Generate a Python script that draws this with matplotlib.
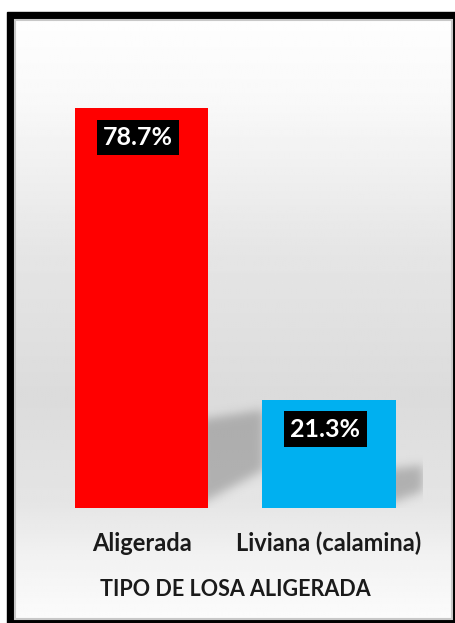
import numpy as np
import matplotlib
matplotlib.use("Agg")
from matplotlib import pyplot as plt
from matplotlib.patches import Rectangle
from matplotlib.path import Path

categories = ["Aligerada", "Liviana (calamina)"]
values = [78.7, 21.3]
labels = ["78.7%", "21.3%"]
colors = ["#ff0000", "#00b0f0"]
xlabel = "TIPO DE LOSA ALIGERADA"

W, H = 455, 623
fig = plt.figure(figsize=(W / 100, H / 100), dpi=100)

# background: frame + vertical gradient
bg = fig.add_axes([0, 0, 1, 1])
bg.set_xlim(0, W)
bg.set_ylim(H, 0)
bg.axis("off")
bg.add_patch(Rectangle((7, 12), W - 7, H - 12, color="black", zorder=0))
stops_y = [20, 100, 250, 400, 505, 560, 619]
stops_v = [0.995, 0.975, 0.90, 0.86, 0.90, 0.95, 0.985]
yy = np.linspace(20, 619, 300)
grad = np.interp(yy, stops_y, stops_v)
img = np.repeat(grad[:, None], 2, axis=1)
bg.imshow(img, cmap="gray", vmin=0, vmax=1, extent=(15, 452, 619, 20),
          aspect="auto", zorder=1, interpolation="bilinear")
bg.add_patch(Rectangle((15, 20), 437, 599, fill=False, ec="#c8c8c8", lw=1.5, zorder=2))

ax = fig.add_axes([47.75 / W, (H - 508) / H, 375 / W, 406.6 / H])
ax.patch.set_alpha(0)
x = np.arange(len(values))
width = 0.71


def blur(a, sigma):
    r = int(3 * sigma)
    k = np.exp(-0.5 * (np.arange(-r, r + 1) / sigma) ** 2)
    k /= k.sum()
    a = np.apply_along_axis(lambda m: np.convolve(m, k, mode="same"), 0, a)
    a = np.apply_along_axis(lambda m: np.convolve(m, k, mode="same"), 1, a)
    return a


# soft shadows cast to the right of each bar
nx, ny = 375, 407
gx = np.linspace(-0.5, 1.5, nx)
gy = np.linspace(80, 0, ny)
GX, GY = np.meshgrid(gx, gy)
pts = np.column_stack([GX.ravel(), GY.ravel()])
mask = np.zeros(GX.shape)
for xi, v in zip(x, values):
    xr = xi + width / 2
    if v > 50:
        dx, top, rise, low = 0.30, 0.22 * v, 2.0, 7.5
    else:
        dx, top, rise, low = 0.17, 0.35 * v, 1.0, 3.5
    poly = Path([(xr - 0.05, 0.6), (xr - 0.05, top), (xr + dx, top + rise),
                 (xr + dx, low), (xr - 0.05, 0.6)])
    mask += poly.contains_points(pts).reshape(GX.shape)
mask = blur(np.clip(mask, 0, 1), 5)
rgba = np.zeros(mask.shape + (4,))
rgba[..., :3] = 0.45
rgba[..., 3] = mask * 0.45
ax.imshow(rgba, extent=(-0.5, 1.5, 0, 80), aspect="auto", zorder=1,
          interpolation="bilinear")

ax.bar(x, values, width=width, color=colors, zorder=3)

for xi, v, lab in zip(x, values, labels):
    ax.text(xi - 0.02, v - 5.8, lab, ha="center", va="center", color="white",
            fontsize=18, fontweight="bold", family=["Lato", "DejaVu Sans"], zorder=5,
            bbox=dict(boxstyle="square,pad=0.25", fc="black", ec="none"))

ax.set_xlim(-0.5, 1.5)
ax.set_ylim(0, 80)
ax.set_xticks(x)
ax.set_xticklabels(categories, fontsize=17, fontweight="bold",
                   family=["Lato", "DejaVu Sans"], color="#1a1a1a")
ax.tick_params(axis="x", length=0, pad=17)
ax.set_yticks([])
for s in ax.spines.values():
    s.set_visible(False)
ax.set_xlabel(xlabel, fontsize=15.5, fontweight="bold", family=["Lato", "DejaVu Sans"],
              color="#1a1a1a")
ax.xaxis.set_label_coords(0.5, -0.175)

fig.savefig("out.png", dpi=100)
